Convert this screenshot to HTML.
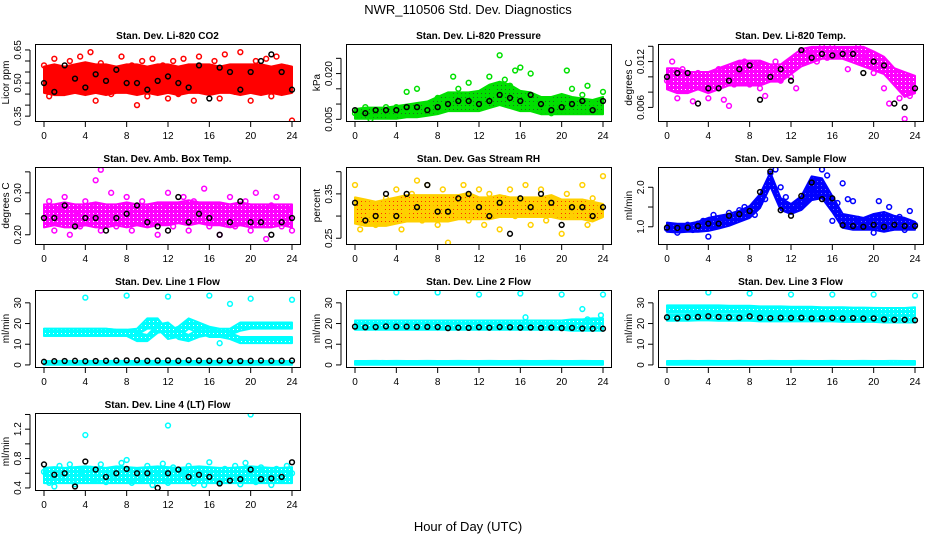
<!DOCTYPE html>
<html><head><meta charset="utf-8"><style>
html,body{margin:0;padding:0;background:#fff;}
svg{display:block;font-family:"Liberation Sans",sans-serif;}
</style></head><body>
<svg id="chart" width="936" height="540" viewBox="0 0 936 540">
<defs id="defs"></defs>
<text x="468" y="14" font-size="13" text-anchor="middle">NWR_110506  Std. Dev. Diagnostics</text>
<text x="468" y="531" font-size="13" text-anchor="middle">Hour of Day (UTC)</text>
</svg>
<script>
const hourTicks=[0,4,8,12,16,20,24];
// CO2
const co2Lo=[0.46,0.45,0.45,0.46,0.45,0.46,0.45,0.46,0.46,0.45,0.46,0.45,0.46,0.45,0.46,0.46,0.45,0.46,0.46,0.45,0.46,0.45,0.46,0.45,0.46];
const co2Hi=[0.57,0.58,0.57,0.58,0.59,0.58,0.58,0.57,0.58,0.58,0.57,0.58,0.58,0.57,0.58,0.58,0.58,0.57,0.58,0.58,0.58,0.58,0.57,0.58,0.57];
const co2Pts=[0.58,0.44,0.61,0.47,0.55,0.60,0.50,0.62,0.46,0.64,0.42,0.59,0.53,0.45,0.56,0.62,0.48,0.58,0.40,0.60,0.44,0.61,0.47,0.58,0.43,0.60,0.45,0.61,0.56,0.42,0.62,0.55,0.47,0.60,0.43,0.63,0.52,0.46,0.64,0.57,0.42,0.60,0.48,0.61,0.44,0.62,0.46,0.57,0.33];
const co2Blk=[0.50,0.46,0.58,0.52,0.48,0.54,0.51,0.56,0.50,0.50,0.47,0.51,0.53,0.50,0.48,0.58,0.43,0.57,0.55,0.47,0.55,0.60,0.63,0.55,0.47];
// Pressure
const presLo=[.0055,.0055,.0055,.0055,.0055,.006,.006,.0065,.007,.008,.008,.008,.008,.009,.010,.009,.008,.008,.007,.007,.007,.007,.007,.007,.007];
const presHi=[.008,.0085,.0085,.0085,.009,.0095,.010,.0105,.012,.0135,.0135,.0135,.014,.016,.017,.016,.014,.0135,.012,.012,.013,.012,.0115,.011,.012];
const presPts=[.007,.006,.009,.005,.008,.007,.009,.006,.009,.007,.014,.008,.015,.007,.010,.008,.012,.009,.013,.019,.015,.011,.017,.012,.010,.009,.019,.014,.026,.018,.016,.021,.022,.013,.020,.010,.011,.009,.007,.010,.012,.021,.015,.011,.013,.016,.010,.008,.014];
const presBlk=[.008,.007,.008,.008,.008,.009,.009,.008,.009,.010,.011,.011,.010,.011,.013,.012,.011,.013,.010,.008,.009,.010,.011,.008,.011];
// Li-820 Temp
const tempLo=[.0085,.008,.008,.0085,.008,.0085,.009,.009,.009,.009,.0095,.0095,.0105,.0115,.012,.0125,.0125,.0125,.012,.0115,.011,.0105,.009,.0075,.008];
const tempHi=[.011,.011,.0105,.0105,.0105,.011,.0115,.012,.012,.012,.0115,.0115,.0125,.0135,.0138,.0138,.0138,.0138,.0138,.0138,.0132,.0125,.011,.0105,.010];
const tempPts=[.0095,.012,.0072,.011,.009,.0068,.0105,.0085,.0072,.010,.011,.007,.0062,.009,.0105,.012,.009,.0115,.0085,.0075,.011,.012,.0095,.0105,.010,.0085,.0125,.0135,.013,.012,.014,.0125,.014,.0128,.013,.011,.0135,.014,.0125,.013,.0105,.0115,.0085,.0065,.0105,.0072,.0045,.0075,.0085];
const tempBlk=[.010,.0105,.0105,.0065,.0085,.0085,.0095,.011,.0115,.007,.010,.011,.0095,.0135,.0125,.013,.0128,.013,.013,.0105,.012,.0115,.0065,.006,.0085];
// Amb box temp
const ambLo=[.22,.225,.22,.22,.225,.22,.22,.225,.22,.225,.22,.225,.225,.23,.225,.23,.225,.225,.22,.225,.22,.22,.22,.225,.22];
const ambHi=[.27,.27,.275,.27,.27,.275,.27,.27,.275,.27,.27,.275,.275,.275,.28,.275,.275,.275,.27,.275,.27,.27,.27,.27,.27];
const ambPts=[.24,.28,.21,.26,.29,.20,.25,.22,.28,.27,.33,.21,.24,.30,.22,.26,.29,.21,.25,.28,.23,.26,.20,.27,.30,.22,.26,.29,.21,.28,.25,.31,.22,.27,.20,.26,.29,.22,.25,.28,.21,.30,.24,.19,.27,.29,.22,.26,.21];
const ambBlk=[.24,.24,.27,.22,.24,.24,.21,.24,.25,.27,.23,.22,.21,.29,.23,.25,.24,.20,.23,.28,.23,.23,.20,.23,.24];
// Gas stream RH
const rhLo=[.285,.28,.28,.28,.285,.29,.29,.29,.29,.29,.295,.295,.295,.295,.30,.30,.30,.30,.30,.30,.295,.295,.295,.29,.30];
const rhHi=[.34,.335,.33,.335,.34,.345,.345,.345,.345,.345,.345,.35,.34,.34,.345,.34,.34,.34,.34,.345,.335,.335,.335,.33,.325];
const rhPts=[.37,.27,.33,.30,.28,.32,.34,.30,.36,.27,.31,.35,.38,.29,.37,.32,.28,.36,.24,.33,.30,.37,.29,.33,.36,.28,.35,.31,.27,.34,.36,.30,.33,.37,.28,.32,.36,.29,.34,.31,.26,.35,.30,.33,.37,.28,.34,.32,.39];
const rhBlk=[.33,.29,.30,.35,.30,.35,.32,.37,.31,.31,.34,.35,.32,.30,.33,.26,.34,.32,.35,.33,.28,.32,.32,.30,.32];
// Sample flow
const sfLo=[.90,.88,.90,.90,.92,.98,1.05,1.15,1.25,1.50,2.05,1.45,1.35,1.45,1.70,1.75,1.40,1.00,.95,.95,.95,.90,.95,.95,.95];
const sfHi=[1.08,1.05,1.05,1.10,1.20,1.25,1.30,1.38,1.50,1.80,2.35,1.70,1.55,1.75,2.25,2.20,1.75,1.30,1.25,1.20,1.30,1.35,1.25,1.20,1.10];
const sfPts=[.95,1.02,.85,.98,1.05,.92,1.08,1.15,.75,1.30,1.10,1.20,1.35,1.22,1.42,1.50,1.35,1.30,1.60,1.70,2.35,2.45,2.00,1.75,1.45,1.60,1.50,1.70,1.90,1.80,2.45,2.30,1.15,1.60,2.10,1.70,1.65,1.20,1.05,1.20,.85,1.65,1.00,1.50,1.05,1.25,.92,1.40,1.05];
const sfBlk=[.98,.97,.98,1.02,1.08,1.08,1.28,1.32,1.40,1.88,2.40,1.42,1.28,1.78,2.12,1.70,1.72,1.04,1.02,1.00,1.05,1.00,1.05,1.02,1.02];
// Line flows: shared low band
const lowLo=[0.6,0.6,0.6,0.6,0.6,0.6,0.6,0.6,0.6,0.6,0.6,0.6,0.6,0.6,0.6,0.6,0.6,0.6,0.6,0.6,0.6,0.6,0.6,0.6,0.6];
const lowHi=[1.4,1.4,1.5,1.4,1.5,1.4,1.4,1.5,1.4,1.4,1.5,1.4,1.4,1.5,1.4,1.4,1.5,1.4,1.4,1.5,1.4,1.4,1.5,1.4,1.4];
// Line 1
const l1aLo=[14.5,14.5,14.5,14.5,14.5,14.5,14.5,14.5,14.5,15,18,18,13,14,18,16,14,14,15,17,18,18,18,18,18];
const l1aHi=[17,17,17,17,17,17,17,16.5,16.5,17,22,22,16,18,22,20,18,17,17,20,20,20,20,20,20];
const l1bLo=[14.5,14.5,14.5,14.5,14.5,14.5,14.5,14.5,14.5,12,12,16,17,13,12,14,15,14,13,11,11,11,11,11,11];
const l1bHi=[17,17,17,17,17,17,17,16.5,16.5,15,14,19,20,16,14,17,17,16,15,13,13,13,13,13,13];
const l1Blk=[1.5,1.8,1.9,2,1.8,1.9,2.0,2.1,2.2,2.3,2.0,2.1,2.2,2.0,2.3,2.1,2.0,2.1,2.0,1.9,2.0,2.1,2.0,2.0,2.1];
const l1Out=[[4,32.5],[8,33.5],[12,33],[16,33.5],[18,29.5],[20,32],[24,31.5],[17,10.5]];
// Line 2
const l2Lo=[17.5,17.5,17.5,17.5,17.5,17.5,17.5,17.5,17.5,17.5,17.5,17.5,17.5,17.5,17.5,17.5,17.5,17.5,17.5,17.5,17.5,17,17,17,17];
const l2Hi=[21,21,21,21,21,21,21,21,21,21,21,21,21,21,21,21,21,21,21,21,21,21.5,21.5,22,22];
const l2Blk=[18.5,18.2,18.3,18.6,18.5,18.5,18.4,18.4,18.3,17.8,18.0,17.9,18.2,18.0,18.3,18.2,18.0,18.1,17.9,18.0,17.8,17.9,17.6,17.5,17.5];
const l2Out=[[4,35],[8,35],[12,34],[16,34.5],[20,34],[24,34],[22,27],[23.8,24],[22.5,22],[16.5,23]];
// Line 3
const l3aLo=[26,26,26,26,26,26,26,26,26,25.5,25.5,25.5,25.5,25.3,25.3,25.3,25.3,25,25,25,25,24.8,24.8,24.5,24.8];
const l3aHi=[28.3,28.3,28.3,28.3,28.3,28.3,28.1,28.1,28.1,27.8,27.8,27.8,27.6,27.6,27.6,27.4,27.4,27.4,27.2,27.2,27.1,27,27,27,27.4];
const l3bLo=[21.8,21.8,21.8,22,22,21.8,21.8,21.8,21.8,21.5,21.5,21.5,21.5,21.5,21.5,21.5,21.5,21.3,21.3,21.3,21.3,21,21,21,21];
const l3bHi=[24,24,24,24.2,24.2,24,24,24,24.2,23.8,23.8,23.8,23.7,23.7,23.7,23.7,23.7,23.5,23.5,23.5,23.5,23.2,23.2,23.2,23.2];
const l3Blk=[23,22.5,23,23.2,23.5,23.2,23,22.8,23.5,22.8,22.6,22.8,22.7,22.8,22.5,22.6,22.7,22.5,22.6,22.4,22.5,22,21.8,21.8,21.6];
const l3Out=[[4,35],[8,34.5],[12,34],[16,34],[20,34],[24,33.5]];
// Line 4
const l4Lo=[0.48,0.48,0.48,0.48,0.48,0.48,0.48,0.48,0.48,0.48,0.48,0.48,0.48,0.48,0.48,0.48,0.48,0.48,0.48,0.48,0.48,0.48,0.48,0.48,0.48];
const l4Hi=[0.66,0.67,0.66,0.67,0.68,0.67,0.66,0.68,0.67,0.66,0.67,0.68,0.67,0.66,0.67,0.68,0.67,0.66,0.66,0.67,0.68,0.67,0.66,0.66,0.67];
const l4Pts=[0.62,0.47,0.42,0.70,0.55,0.72,0.45,0.62,0.58,0.66,0.50,0.72,0.48,0.60,0.55,0.74,0.78,0.47,0.62,0.52,0.70,0.44,0.56,0.73,0.47,0.68,0.50,0.62,0.70,0.46,0.58,0.44,0.75,0.60,0.48,0.66,0.53,0.70,0.45,0.74,0.62,0.48,0.68,0.55,0.44,0.66,0.52,0.70,0.60];
const l4Blk=[0.72,0.58,0.60,0.42,0.76,0.65,0.55,0.60,0.66,0.60,0.60,0.40,0.60,0.65,0.55,0.58,0.55,0.46,0.50,0.52,0.65,0.52,0.53,0.55,0.75];
const l4Out=[[4,1.12],[12,1.25],[20,1.40]];

const panels=[
 {name:'co2',title:'Stan. Dev. Li-820 CO2',ylab:'Licor ppm',c:0,r:0,ymin:0.328,ymax:0.677,ticks:[0.35,0.40,0.45,0.50,0.55,0.60,0.65],labels:['0.35','0.50','0.65'],col:'#ff0000',dot:'#ff0000',bands:[[co2Lo,co2Hi]],pts:co2Pts,blk:co2Blk,out:[]},
 {name:'pressure',title:'Stan. Dev. Li-820 Pressure',ylab:'kPa',c:1,r:0,ymin:0.00444,ymax:0.0297,ticks:[0.005,0.010,0.015,0.020,0.025],labels:['0.005','0.020'],col:'#00e000',dot:'#226622',bands:[[presLo,presHi]],pts:presPts,blk:presBlk,out:[]},
 {name:'li820-temp',title:'Stan. Dev. Li-820 Temp.',ylab:'degrees C',c:2,r:0,ymin:0.00422,ymax:0.0143,ticks:[0.006,0.008,0.010,0.012,0.014],labels:['0.006','0.012'],col:'#ff00ff',dot:'#ffffff',bands:[[tempLo,tempHi]],pts:tempPts,blk:tempBlk,out:[]},
 {name:'amb-box-temp',title:'Stan. Dev. Amb. Box Temp.',ylab:'degrees C',c:0,r:1,ymin:0.178,ymax:0.3616,ticks:[0.20,0.25,0.30,0.35],labels:['0.20','0.30'],col:'#ff00ff',dot:'#ffffff',bands:[[ambLo,ambHi]],pts:ambPts,blk:ambBlk,out:[[5.5,0.355]]},
 {name:'gas-stream-rh',title:'Stan. Dev. Gas Stream RH',ylab:'percent',c:1,r:1,ymin:0.237,ymax:0.4106,ticks:[0.25,0.30,0.35,0.40],labels:['0.25','0.35'],col:'#ffd000',dot:'#ff3000',bands:[[rhLo,rhHi]],pts:rhPts,blk:rhBlk,out:[]},
 {name:'sample-flow',title:'Stan. Dev. Sample Flow',ylab:'ml/min',c:2,r:1,ymin:0.564,ymax:2.513,ticks:[1.0,1.5,2.0],labels:['1.0','2.0'],col:'#0000ff',dot:'#6666ff',bands:[[sfLo,sfHi]],pts:sfPts,blk:sfBlk,out:[]},
 {name:'line1-flow',title:'Stan. Dev. Line 1 Flow',ylab:'ml/min',c:0,r:2,ymin:-1,ymax:36.2,ticks:[0,10,20,30],labels:['0','10','20','30'],col:'#00ffff',dot:'#ffffff',bands:[[lowLo,lowHi],[l1aLo,l1aHi],[l1bLo,l1bHi]],pts:[],blk:l1Blk,out:l1Out},
 {name:'line2-flow',title:'Stan. Dev. Line 2 Flow',ylab:'ml/min',c:1,r:2,ymin:-1,ymax:36.2,ticks:[0,10,20,30],labels:['0','10','20','30'],col:'#00ffff',dot:'#ffffff',bands:[[lowLo,lowHi],[l2Lo,l2Hi]],pts:[],blk:l2Blk,out:l2Out},
 {name:'line3-flow',title:'Stan. Dev. Line 3 Flow',ylab:'ml/min',c:2,r:2,ymin:-1,ymax:36.2,ticks:[0,10,20,30],labels:['0','10','20','30'],col:'#00ffff',dot:'#ffffff',bands:[[lowLo,lowHi],[l3aLo,l3aHi],[l3bLo,l3bHi]],pts:[],blk:l3Blk,out:l3Out},
 {name:'line4-flow',title:'Stan. Dev. Line 4 (LT) Flow',ylab:'ml/min',c:0,r:3,ymin:0.372,ymax:1.42,ticks:[0.4,0.6,0.8,1.0,1.2,1.4],labels:['0.4','0.8','1.2'],col:'#00ffff',dot:'#ffffff',bands:[[l4Lo,l4Hi]],pts:l4Pts,blk:l4Blk,out:l4Out}
];
const NS='http://www.w3.org/2000/svg';
const svg=document.getElementById('chart');
const defs=document.getElementById('defs');
const colL=[35,346,658], rowT=[44,167,290,413], W=265, H=77;
function mk(tag,attrs,parent){const e=document.createElementNS(NS,tag);for(const k in attrs)e.setAttribute(k,attrs[k]);parent.appendChild(e);return e;}
panels.forEach(p=>{
  const L=colL[p.c],T=rowT[p.r],B=T+H,R=L+W;
  const pat=mk('pattern',{id:'pat-'+p.name,width:4,height:4,patternUnits:'userSpaceOnUse'},defs);
  mk('rect',{x:0,y:0,width:4,height:4,fill:p.col},pat);
  mk('rect',{x:1,y:1,width:1,height:1,fill:p.dot},pat);
  const g=mk('g',{},svg);
  
  
  const xs=h=>L+9+h*(W-17)/24;
  const ys=v=>B-(v-p.ymin)/(p.ymax-p.ymin)*H;
  const clip='clip-'+p.name;
  const cp=mk('clipPath',{id:clip},g);mk('rect',{x:L,y:T,width:W,height:H},cp);
  const data=mk('g',{'clip-path':'url(#'+clip+')'},g);
  
  
  p.bands.forEach(bd=>{
    const lo=bd[0],hi=bd[1];let pts=[];
    hi.forEach((v,i)=>pts.push(xs(i)+','+(ys(v)-1)));
    for(let i=lo.length-1;i>=0;i--)pts.push(xs(i)+','+(ys(lo[i])+1));
    const poly=mk('polygon',{points:pts.join(' '),fill:'url(#pat-'+p.name+')',stroke:p.col,'stroke-width':2,'stroke-linejoin':'round'},data);
    
    
  });
  p.pts.forEach((v,i)=>{
    const c=mk('circle',{cx:xs(i*0.5),cy:ys(v),r:2.4,fill:'none',stroke:p.col,'stroke-width':1.5},data);
    
    
  });
  p.out.forEach(o=>{
    const c=mk('circle',{cx:xs(o[0]),cy:ys(o[1]),r:2.4,fill:'none',stroke:p.col,'stroke-width':1.5},data);
    
    
  });
  p.blk.forEach((v,i)=>{
    const c=mk('circle',{cx:xs(i),cy:ys(v),r:2.4,fill:'none',stroke:'#000','stroke-width':1.5},data);
    
    
  });
  const box=mk('rect',{x:L+0.5,y:T+0.5,width:W,height:H,fill:'none',stroke:'#000','stroke-width':1},g);
  
  
  hourTicks.forEach(h=>{
    mk('line',{x1:xs(h),x2:xs(h),y1:B+1,y2:B+6,stroke:'#000'},g);
    const t=mk('text',{x:xs(h),y:B+18,'font-size':10,'text-anchor':'middle'},g);
    t.textContent=h;
    
    
  });
  mk('line',{x1:L-5,x2:L-5,y1:ys(p.ticks[0]),y2:ys(p.ticks[p.ticks.length-1]),stroke:'#000'},g);
  p.ticks.forEach(v=>{mk('line',{x1:L-10,x2:L-5,y1:ys(v),y2:ys(v),stroke:'#000'},g);});
  p.labels.forEach(s=>{
    const y=ys(parseFloat(s));
    const t=mk('text',{x:L-14,y:y,'font-size':10,'text-anchor':'middle',transform:'rotate(-90 '+(L-14)+' '+y+')'},g);
    t.textContent=s;
    
    
  });
  const ym=(T+B)/2;
  const yt=mk('text',{x:L-26,y:ym,'font-size':10,'text-anchor':'middle',transform:'rotate(-90 '+(L-26)+' '+ym+')'},g);
  yt.textContent=p.ylab;
  
  
  const tt=mk('text',{x:L+W/2,y:T-5,'font-size':10,'font-weight':'bold','text-anchor':'middle'},g);
  tt.textContent=p.title;
  
  
});
</script>
</body></html>
